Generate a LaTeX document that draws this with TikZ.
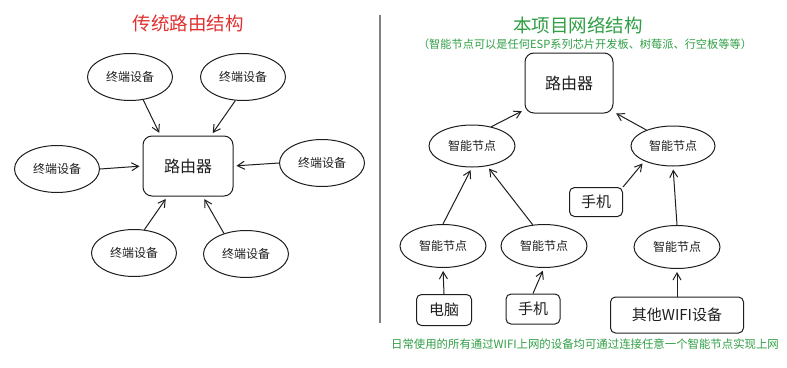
\documentclass[tikz,border=0pt]{standalone}
\usepackage{fontspec}
\setmainfont{Noto Sans CJK SC}
\usetikzlibrary{positioning, arrows.meta, shapes.geometric}
\definecolor{ink}{RGB}{30, 30, 30}
\definecolor{titlered}{RGB}{224, 49, 49}
\definecolor{titlegreen}{RGB}{47, 158, 68}

\begin{document}
\begin{tikzpicture}[
    x=1pt, y=-1pt,
    >={Straight Barb[length=7pt, width=8pt]},
    color=ink,
    line width=1pt,
    device/.style={ellipse, draw, inner sep=0pt,
        minimum width=85pt, minimum height=47pt,
        font=\fontsize{12}{14}\selectfont},
    router/.style={rectangle, draw, rounded corners=9pt,
        minimum width=90pt, minimum height=60pt,
        font=\fontsize{16}{18}\selectfont},
    smartnode/.style={ellipse, draw, inner sep=0pt,
        minimum width=86pt, minimum height=42pt,
        font=\fontsize{12}{14}\selectfont},
    client/.style={rectangle, draw, rounded corners=5pt,
        minimum height=30pt, minimum width=54pt,
        font=\fontsize{15}{17}\selectfont},
    link/.style={->, shorten >=3pt},
]

\useasboundingbox (0,0) rectangle (787,367);

% --- Left: traditional router ---
\node[text=titlered, font=\fontsize{18.5}{20}\selectfont]
    (ltitle) at (188, 23) {传统路由结构};

\node[router] (lrouter) at (188, 166) {路由器};

\node[device] (ltl)    at (130, 77)  {终端设备};
\node[device] (ltr)    at (243, 77)  {终端设备};
\node[device] (lleft)  at (57, 169)  {终端设备};
\node[device] (lright) at (322, 163) {终端设备};
\node[device] (lbl)    at (134, 253) {终端设备};
\node[device] (lbr)    at (246, 254) {终端设备};

\foreach \src/\dst in {ltl.-60/lrouter.132, ltr.-108/lrouter.53,
                       lleft.east/lrouter.west, lright.west/lrouter.east,
                       lbl.66/lrouter.-124, lbr.137/lrouter.-64} {
    \draw[link] (\src) -- (\dst);
}

% --- Divider ---
\draw[gray, line width=1.2pt] (380, 15) -- (380, 323);

% --- Right: mesh of smart nodes ---
\node[text=titlegreen, font=\fontsize{18.5}{20}\selectfont]
    (rtitle) at (578, 25) {本项目网络结构};
\node[text=titlegreen, font=\fontsize{11.2}{13}\selectfont]
    (rsub) at (585, 44) {（智能节点可以是任何ESP系列芯片开发板、树莓派、行空板等等）};

\node[router, minimum width=88pt] (rrouter) at (569, 83) {路由器};

\node[smartnode] (nodeL)  at (472, 146) {智能节点};
\node[smartnode, minimum width=84pt, minimum height=40pt]
    (nodeR) at (673, 146) {智能节点};
\node[smartnode, minimum height=43pt] (nodeBL) at (443, 246) {智能节点};
\node[smartnode, minimum height=43pt] (nodeBM) at (544, 246) {智能节点};
\node[smartnode, minimum height=43pt] (nodeBR) at (677, 247) {智能节点};

\node[client, minimum width=53pt, minimum height=29pt] (phoneup) at (596, 202) {手机};
\node[client, minimum width=55pt, minimum height=31pt] (pc)      at (444, 310) {电脑};
\node[client] (phone) at (533, 309) {手机};
\node[client, minimum width=133pt, minimum height=36pt] (other) at (677, 315) {其他WIFI设备};

\foreach \src/\dst in {nodeL.45/rrouter.-149, nodeR.149/rrouter.-33,
                       phoneup.north east/nodeR.-152,
                       nodeBL.north/nodeL.south, nodeBM.118/nodeL.-53,
                       nodeBR.north/nodeR.south,
                       pc.north/nodeBL.south, phone.north/nodeBM.south,
                       other.north/nodeBR.south} {
    \draw[link] (\src) -- (\dst);
}

\node[text=titlegreen, font=\fontsize{11.4}{13}\selectfont]
    (note) at (585, 344) {日常使用的所有通过WIFI上网的设备均可通过连接任意一个智能节点实现上网};

\end{tikzpicture}
\end{document}
